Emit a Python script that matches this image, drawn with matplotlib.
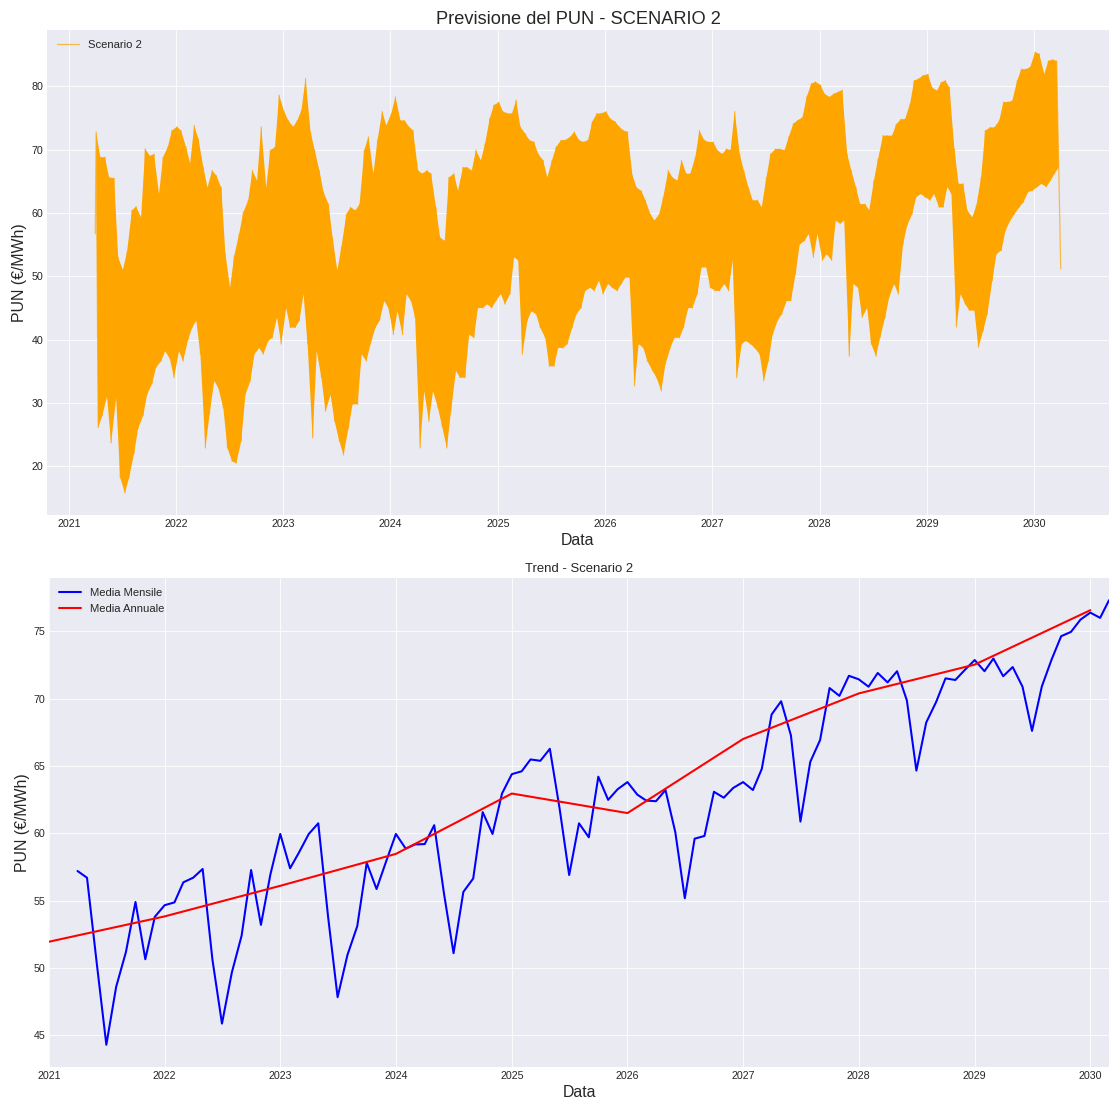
import numpy as np
import pandas as pd
import matplotlib
matplotlib.use("Agg")
import matplotlib.pyplot as plt
import matplotlib.dates as mdates

plt.style.use("seaborn-v0_8-darkgrid")
plt.rcParams["font.family"] = ["Liberation Sans", "DejaVu Sans"]

# ---- hourly forecast, summarised as half-month highs and lows (EUR/MWh) ----
period_start = pd.date_range("2021-04-01", "2030-03-15", freq="SMS")

hourly_high = (
    # 2021 (Apr-Dec)
    [72.8, 68.8, 68.8, 65.6, 65.5, 53.0, 51.0, 53.8, 60.4, 61.0, 59.3, 70.1,
     69.0, 69.3, 63.0, 68.8, 70.4, 73.0]
    # 2022
    + [73.6, 73.0, 70.4, 67.8, 73.8, 71.7, 67.2, 64.0, 66.7, 65.9, 64.0, 53.5,
       48.2, 53.2, 56.7, 60.1, 62.0, 66.7, 65.1, 73.6, 64.0, 69.9, 70.4, 78.6]
    # 2023
    + [76.0, 74.6, 73.6, 74.6, 76.2, 81.2, 72.8, 69.9, 66.7, 63.3, 61.4, 56.1,
       50.9, 54.6, 59.8, 60.9, 60.4, 61.4, 69.9, 72.0, 66.2, 71.5, 76.0, 73.8]
    # 2024
    + [75.7, 78.3, 74.6, 74.6, 73.6, 73.0, 66.7, 66.2, 66.7, 66.2, 60.9, 56.1,
       55.6, 65.6, 66.2, 63.5, 67.2, 67.2, 66.7, 69.9, 68.3, 70.9, 74.9, 77.0]
    # 2025
    + [77.5, 76.0, 75.7, 75.7, 77.8, 73.6, 72.5, 71.5, 71.2, 69.3, 68.3, 65.6,
       68.3, 70.4, 71.5, 71.5, 72.0, 72.8, 71.5, 71.2, 71.5, 74.4, 75.7, 75.7]
    # 2026
    + [76.0, 74.9, 74.4, 73.6, 73.0, 72.8, 65.9, 64.0, 63.5, 62.0, 59.8, 58.8,
       59.8, 62.5, 66.7, 65.6, 65.1, 68.3, 66.2, 66.2, 68.8, 73.0, 71.5, 71.2]
    # 2027
    + [71.2, 69.9, 69.3, 70.1, 69.9, 76.0, 69.3, 66.7, 64.0, 62.0, 62.0, 60.9,
       65.6, 69.3, 70.1, 70.1, 69.9, 72.0, 74.1, 74.6, 75.1, 78.3, 80.4, 80.7]
    # 2028
    + [80.2, 78.8, 78.3, 78.8, 79.1, 79.4, 69.3, 66.7, 64.0, 61.4, 61.4, 60.4,
       65.1, 68.5, 72.2, 72.2, 72.2, 74.0, 74.8, 74.8, 77.2, 80.9, 81.2, 81.7]
    # 2029
    + [81.9, 79.8, 79.3, 80.6, 80.9, 79.8, 70.1, 64.6, 64.6, 60.4, 59.3, 61.2,
       65.6, 73.0, 73.5, 73.5, 74.6, 77.5, 77.5, 77.7, 80.9, 82.7, 82.7, 83.0]
    # 2030 (Jan-Mar)
    + [85.4, 85.1, 81.9, 84.0, 84.2, 84.0]
)

hourly_low = (
    [26.1, 28.0, 31.0, 23.7, 30.8, 18.2, 15.8, 18.2, 22.0, 26.0, 28.0, 31.4,
     33.0, 35.6, 36.6, 38.2, 37.0, 34.0]
    + [38.2, 36.6, 40.0, 41.9, 43.0, 37.7, 22.9, 28.2, 33.5, 32.4, 29.2, 22.9,
       20.8, 20.5, 24.0, 31.3, 33.5, 37.7, 38.7, 37.7, 39.8, 40.3, 43.5, 39.3]
    + [45.0, 41.9, 41.9, 43.0, 47.2, 39.3, 24.5, 38.2, 34.0, 28.7, 31.3, 27.1,
       24.0, 21.8, 26.0, 29.8, 29.8, 37.7, 36.6, 39.3, 41.9, 43.0, 46.1, 45.0]
    + [40.8, 44.5, 40.8, 47.2, 46.1, 43.5, 22.9, 31.9, 27.1, 31.9, 29.2, 26.3,
       22.9, 28.7, 35.1, 34.0, 34.0, 40.8, 40.3, 45.0, 45.0, 45.6, 45.0, 46.1]
    + [47.2, 45.6, 47.2, 53.0, 52.5, 37.7, 43.0, 44.5, 44.0, 41.9, 40.3, 35.8,
       35.8, 38.7, 38.7, 39.3, 41.9, 44.0, 45.0, 47.7, 48.2, 47.7, 49.3, 47.2]
    + [48.8, 48.2, 47.7, 48.8, 49.8, 49.8, 32.7, 39.3, 38.7, 36.6, 35.1, 34.0,
       31.9, 36.1, 38.7, 40.3, 40.3, 41.9, 45.0, 45.0, 47.2, 51.4, 51.4, 48.2]
    + [47.7, 47.7, 48.8, 47.7, 52.5, 34.0, 39.3, 39.8, 39.3, 38.7, 37.7, 33.5,
       36.6, 40.8, 43.0, 44.0, 46.1, 46.1, 50.3, 55.0, 55.6, 56.7, 53.0, 56.7]
    + [52.5, 53.5, 52.5, 58.8, 58.3, 58.8, 37.4, 48.8, 48.2, 43.5, 45.0, 39.3,
       37.4, 40.3, 43.5, 46.7, 48.8, 47.2, 55.0, 58.0, 59.8, 62.5, 63.0, 62.5]
    + [62.0, 63.0, 60.9, 60.9, 64.1, 63.0, 42.0, 47.2, 45.6, 44.6, 44.6, 38.8,
       41.4, 44.0, 49.3, 53.5, 54.1, 57.2, 58.8, 59.8, 60.9, 61.7, 63.3, 63.5]
    + [64.1, 64.6, 64.1, 65.1, 66.2, 67.2]
)

first_hour = pd.Timestamp("2021-04-01 00:00")
first_value = 56.7
last_hour = pd.Timestamp("2030-03-31 23:00")
last_value = 51.2

# ---- monthly and annual means (EUR/MWh) ----
month_dates = pd.date_range("2021-04-01", "2030-03-01", freq="MS")
monthly_mean = (
    [57.2, 56.7, 50.3, 44.3, 48.6, 51.2, 54.9, 50.65, 53.8]
    + [54.66, 54.87, 56.36, 56.7, 57.35, 50.6, 45.87, 49.65, 52.4, 57.27, 53.2, 56.96]
    + [59.95, 57.4, 58.57, 59.95, 60.74, 53.8, 47.83, 50.96, 53.1, 57.8, 55.86, 57.9]
    + [59.95, 58.86, 59.17, 59.2, 60.6, 55.5, 51.1, 55.65, 56.64, 61.57, 59.95, 62.95]
    + [64.39, 64.6, 65.48, 65.38, 66.27, 61.8, 56.9, 60.74, 59.7, 64.2, 62.48, 63.27]
    + [63.8, 62.87, 62.43, 62.38, 63.21, 60.08, 55.18, 59.6, 59.8, 63.08, 62.64, 63.37]
    + [63.8, 63.21, 64.78, 68.82, 69.8, 67.26, 60.87, 65.3, 66.92, 70.78, 70.2, 71.69]
    + [71.43, 70.88, 71.9, 71.2, 72.03, 69.86, 64.65, 68.22, 69.73, 71.5, 71.38, 72.13]
    + [72.86, 72.03, 72.97, 71.66, 72.34, 70.88, 67.6, 70.9, 72.91, 74.63, 74.95, 75.86]
    + [76.38, 75.99, 77.3]
)

year_dates = pd.date_range("2021-01-01", "2030-01-01", freq="YS")
annual_mean = [51.95, 53.83, 56.1, 58.47, 62.95, 61.5, 67.0, 70.38, 72.52, 76.56]

# ---- build the oscillating hourly trace: a high then a low in each half month ----
hi_times = period_start + pd.Timedelta(days=3)
lo_times = period_start + pd.Timedelta(days=10)
trace_t = [first_hour]
trace_v = [first_value]
for th, vh, tl, vl in zip(hi_times, hourly_high, lo_times, hourly_low):
    trace_t += [th, tl]
    trace_v += [vh, vl]
trace_t.append(last_hour)
trace_v.append(last_value)

band_t = list(hi_times) + list(lo_times[::-1])
band_v = list(hourly_high) + list(hourly_low[::-1])

W, H, DPI = 1109, 1101, 74
fig = plt.figure(figsize=(W / DPI, H / DPI), dpi=DPI)
ax1 = fig.add_axes([47 / W, 1 - 515 / H, (W - 47) / W, 485 / H])
ax2 = fig.add_axes([49 / W, 1 - 1067 / H, (W - 49) / W, 489 / H])

orange = "#FFA500"
ax1.fill(mdates.date2num(band_t), band_v, color=orange, lw=0)
ax1.plot(trace_t, trace_v, color=orange, lw=1.2, alpha=0.7, label="Scenario 2")
ax1.set_title("Previsione del PUN - SCENARIO 2", fontsize=17.8)
ax1.set_xlabel("Data", fontsize=15.5)
ax1.set_ylabel("PUN (€/MWh)", fontsize=15.5)
ax1.legend(loc="upper left", fontsize=10.9)
ax1.xaxis.set_major_locator(mdates.YearLocator())
ax1.xaxis.set_major_formatter(mdates.DateFormatter("%Y"))
ax1.tick_params(labelsize=10.3)

ax2.plot(month_dates, monthly_mean, color="blue", lw=2, label="Media Mensile")
ax2.plot(year_dates, annual_mean, color="red", lw=2, label="Media Annuale")
ax2.set_title("Trend - Scenario 2", fontsize=12.8)
ax2.set_xlabel("Data", fontsize=15.5)
ax2.set_ylabel("PUN (€/MWh)", fontsize=15.5)
ax2.legend(loc="upper left", fontsize=10.9)
ax2.set_xlim(pd.Timestamp("2021-01-01"), pd.Timestamp("2030-03-01"))
ax2.xaxis.set_major_locator(mdates.YearLocator())
ax2.xaxis.set_major_formatter(mdates.DateFormatter("%Y"))
ax2.tick_params(labelsize=10.3)

fig.savefig("out.png", dpi=DPI)
